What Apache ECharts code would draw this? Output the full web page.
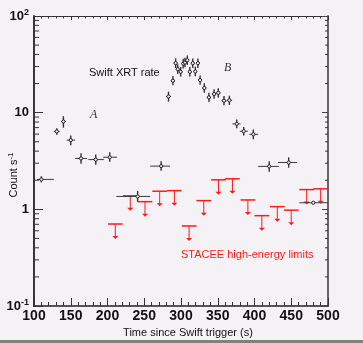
<!DOCTYPE html>
<html>
<head>
<meta charset="utf-8">
<script src="https://cdn.jsdelivr.net/npm/echarts@6/dist/echarts.min.js"></script>
<style>
  html, body { margin: 0; padding: 0; background: #f5f2f6; }
  #chart { width: 363px; height: 343px; }
</style>
</head>
<body>
<div id="chart"></div>
<script>
// Swift XRT count rate (black crosses)
const xrtTime   = [110, 131, 140, 150, 164, 184, 203, 241, 273, 283, 289, 292.7, 295.5, 299.5, 303, 305.4, 308.6, 312, 316, 319.5, 323, 326, 331.7, 338, 345, 350.8, 358.5, 365.8, 375.8, 385.3, 398.4, 420, 446.5, 480]
const xrtTimeLo = [104, 127, 137, 144.5, 156, 174, 194, 212, 258, 280, 286, 290, 293, 297, 300.5, 303, 306, 309.5, 313.5, 317, 320.5, 323.5, 329, 335, 342, 348, 355, 362, 370, 380, 393, 405, 432, 461]
const xrtTimeHi = [127, 135, 143, 156, 172, 195, 213, 258, 285, 286, 292, 295.5, 298, 302, 305.5, 308, 311, 314.5, 318.5, 322, 325.5, 328.5, 334.5, 341, 348, 353.5, 362, 369.5, 381, 391, 405, 433, 458, 500]
const xrtRate   = [2.04, 6.4, 8.1, 5.2, 3.36, 3.27, 3.46, 1.36, 2.8, 14.7, 21.4, 32.5, 28.2, 26.5, 32.2, 33, 34.9, 26.5, 32.5, 26.7, 32.5, 21.7, 18, 14.4, 15.6, 16, 13.3, 13.4, 7.65, 6.42, 5.97, 2.78, 3.05, 1.17]
const xrtRateLo = [1.9, 5.9, 7.0, 4.6, 2.97, 2.9, 3.1, 1.2, 2.5, 13.0, 19.2, 29.0, 25.2, 23.6, 28.7, 29.5, 31.2, 23.6, 29.0, 23.8, 29.0, 19.4, 16.1, 12.9, 13.9, 14.3, 11.9, 12.0, 6.9, 5.8, 5.3, 2.45, 2.7, 1.17]
const xrtRateHi = [2.2, 6.9, 9.2, 5.8, 3.8, 3.7, 3.9, 1.55, 3.15, 16.5, 23.9, 36.4, 31.6, 29.7, 36.1, 37, 39.1, 29.7, 36.4, 29.9, 36.4, 24.3, 20.2, 16.1, 17.5, 17.9, 14.9, 15.0, 8.5, 7.1, 6.7, 3.15, 3.45, 1.17]

// STACEE upper limits (red)
const limTime  = [210.6, 231, 251, 271, 291, 311, 331, 351, 370, 391, 410, 431, 450, 471, 490]
const limHalf  = 10
const limValue = [0.705, 1.38, 1.2, 1.54, 1.56, 0.673, 1.23, 2.02, 2.07, 1.25, 0.86, 1.066, 0.98, 1.6, 1.63]

// minor ticks of the log axis
const logMinorTicks = [0.2, 0.3, 0.4, 0.5, 0.6, 0.7, 0.8, 0.9, 2, 3, 4, 5, 6, 7, 8, 9, 20, 30, 40, 50, 60, 70, 80, 90]

const BG = '#f5f2f6'
const FONT = '"Liberation Sans", Arial, sans-serif'
const ARROW_LEN = 15

const chart = echarts.init(document.getElementById('chart'), null, { renderer: 'canvas' })

function yLabel(v) {
  const e = Math.round(Math.log10(v))
  if (e === 0) return '{b|1}'
  if (e === 1) return '{b|10}'
  return '{b|10}{s|' + e + '}'
}

const xrtData = xrtTime.map((t, i) => [t, xrtRate[i], xrtTimeLo[i], xrtTimeHi[i], xrtRateLo[i], xrtRateHi[i]])
const limData = limTime.map((t, i) => [t, limValue[i], t - limHalf, Math.min(t + limHalf, 500)])

chart.setOption({
  backgroundColor: BG,
  animation: false,
  grid: { left: 34, right: 35, top: 16, bottom: 37, show: false },
  xAxis: [
    {
      type: 'value', min: 100, max: 500, interval: 50, position: 'bottom',
      axisLine: { lineStyle: { color: '#222', width: 1.5 } },
      axisTick: { inside: true, length: 8, lineStyle: { color: '#333' } },
      minorTick: { show: true, splitNumber: 5, length: 4, lineStyle: { color: '#333' } },
      axisLabel: { margin: 3, color: '#111', fontSize: 14, fontWeight: 'bold', fontFamily: FONT },
      splitLine: { show: false }
    },
    {
      type: 'value', min: 100, max: 500, interval: 50, position: 'top',
      axisLine: { lineStyle: { color: '#333', width: 1.2 } },
      axisTick: { inside: true, length: 4, lineStyle: { color: '#333' } },
      minorTick: { show: true, splitNumber: 5, length: 2.5, lineStyle: { color: '#333' } },
      axisLabel: { show: false },
      splitLine: { show: false }
    }
  ],
  yAxis: [
    {
      type: 'log', logBase: 10, min: 0.1, max: 100, position: 'left',
      axisLine: { show: true, lineStyle: { color: '#222', width: 1.8 } },
      axisTick: { show: true, inside: true, length: 9, lineStyle: { color: '#333' } },
      axisLabel: {
        margin: 5, color: '#111', fontFamily: FONT,
        formatter: yLabel,
        rich: {
          b: { fontSize: 13, fontWeight: 'bold', lineHeight: 16, fontFamily: FONT, color: '#111' },
          s: { fontSize: 9, fontWeight: 'bold', lineHeight: 9, verticalAlign: 'top', fontFamily: FONT, color: '#111' }
        }
      },
      splitLine: { show: false }
    },
    {
      type: 'log', logBase: 10, min: 0.1, max: 100, position: 'right',
      axisLine: { show: true, lineStyle: { color: '#666', width: 2 } },
      axisTick: { show: true, inside: true, length: 6, lineStyle: { color: '#444' } },
      axisLabel: { show: false },
      splitLine: { show: false }
    }
  ],
  series: [
    {
      type: 'custom',
      silent: true,
      data: logMinorTicks.map(v => [100, v]),
      encode: { x: 0, y: 1 },
      renderItem(params, api) {
        const l = api.coord([100, api.value(1)])
        const r = api.coord([500, api.value(1)])
        const st = { stroke: '#333', lineWidth: 1 }
        return {
          type: 'group',
          children: [
            { type: 'line', shape: { x1: l[0], y1: l[1], x2: l[0] + 5, y2: l[1] }, style: st },
            { type: 'line', shape: { x1: r[0] - 3, y1: r[1], x2: r[0], y2: r[1] }, style: st }
          ]
        }
      }
    },
    {
      type: 'custom',
      name: 'STACEE high-energy limits',
      silent: true,
      clip: false,
      data: limData,
      encode: { x: 0, y: 1 },
      renderItem(params, api) {
        const c = api.coord([api.value(0), api.value(1)])
        const a = api.coord([api.value(2), api.value(1)])
        const b = api.coord([api.value(3), api.value(1)])
        const tip = c[1] + ARROW_LEN
        const red = '#ff1a1a'
        return {
          type: 'group',
          children: [
            { type: 'line', shape: { x1: a[0], y1: c[1], x2: b[0], y2: c[1] }, style: { stroke: red, lineWidth: 1.5 } },
            { type: 'line', shape: { x1: c[0], y1: c[1], x2: c[0], y2: tip - 2 }, style: { stroke: red, lineWidth: 1 } },
            { type: 'polygon', shape: { points: [[c[0] - 3, tip - 3], [c[0] + 3, tip - 3], [c[0], tip]] }, style: { fill: red } }
          ]
        }
      }
    },
    {
      type: 'custom',
      name: 'Swift XRT rate',
      silent: true,
      data: xrtData,
      encode: { x: 0, y: 1 },
      renderItem(params, api) {
        const t = api.value(0), r = api.value(1)
        const c = api.coord([t, r])
        const l = api.coord([api.value(2), r])
        const h = api.coord([api.value(3), r])
        const lo = api.coord([t, api.value(4)])
        const hi = api.coord([t, api.value(5)])
        return {
          type: 'group',
          children: [
            { type: 'line', shape: { x1: l[0], y1: c[1], x2: h[0], y2: c[1] }, style: { stroke: '#3a3a3a', lineWidth: 1 } },
            { type: 'line', shape: { x1: c[0], y1: lo[1], x2: c[0], y2: hi[1] }, style: { stroke: '#333', lineWidth: 1.4 } },
            { type: 'circle', shape: { cx: c[0], cy: c[1], r: 1.6 }, style: { fill: BG, stroke: '#222', lineWidth: 1 } }
          ]
        }
      }
    }
  ],
  graphic: [
    {
      type: 'text', left: 89, top: 67,
      style: { text: 'Swift XRT rate', font: '11px ' + FONT, fill: '#111' }
    },
    {
      type: 'text', left: 90, top: 109,
      style: { text: 'A', font: 'italic 12px "Liberation Serif", "DejaVu Serif", serif', fill: '#333' }
    },
    {
      type: 'text', left: 224, top: 62,
      style: { text: 'B', font: 'italic 12px "Liberation Serif", "DejaVu Serif", serif', fill: '#333' }
    },
    {
      type: 'text', left: 181, top: 249,
      style: { text: 'STACEE high-energy limits', font: '11px ' + FONT, fill: '#ff1a1a' }
    },
    {
      type: 'text', x: 188, y: 333,
      style: { text: 'Time since Swift trigger (s)', font: '11px ' + FONT, fill: '#111', align: 'center', verticalAlign: 'middle' }
    },
    {
      type: 'text', x: 14, y: 175, rotation: Math.PI / 2,
      style: {
        text: '{a|Count s}{s|-1}', align: 'center', verticalAlign: 'middle',
        rich: {
          a: { font: '11px ' + FONT, fill: '#111', lineHeight: 14 },
          s: { font: '8px ' + FONT, fill: '#111', lineHeight: 8, verticalAlign: 'top' }
        }
      }
    },
    {
      type: 'rect', left: 0, top: 340,
      shape: { width: 363, height: 3 },
      style: { fill: '#808080' }
    }
  ]
})
</script>
</body>
</html>
